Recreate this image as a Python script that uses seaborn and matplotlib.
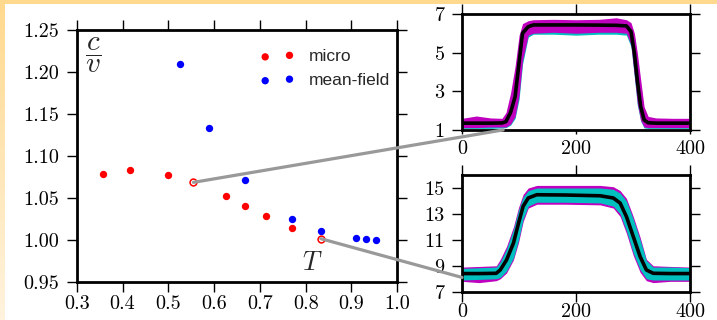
import numpy as np
import pandas as pd
import matplotlib
matplotlib.use("Agg")
import matplotlib.pyplot as plt
import seaborn as sns
from matplotlib.patches import ConnectionPatch

# ---------------- data ----------------
micro_T = [0.357, 0.416, 0.500, 0.555, 0.625, 0.667, 0.714, 0.770, 0.833]
micro_cv = [1.0786, 1.0834, 1.0778, 1.0687, 1.0529, 1.0410, 1.0284, 1.0149, 1.0018]
mf_T = [0.526, 0.588, 0.667, 0.770, 0.833, 0.909, 0.931, 0.953]
mf_cv = [1.2096, 1.1328, 1.0711, 1.0256, 1.0113, 1.0026, 1.0011, 1.0000]
highlight_idx = [3, 8]          # micro points linked to the insets

main_xticks = [0.3, 0.4, 0.5, 0.6, 0.7, 0.8, 0.9, 1.0]
main_xlabels = ["0.3", "0.4", "0.5", "0.6", "0.7", "0.8", "0.9", "1.0"]
main_yticks = [0.95, 1.00, 1.05, 1.10, 1.15, 1.20, 1.25]
main_ylabels = ["0.95", "1.00", "1.05", "1.10", "1.15", "1.20", "1.25"]

# top inset (profile at T = 0.555)
top_x = [0, 25, 50, 70, 77, 85, 93, 100, 106, 116, 125, 160, 200, 240, 270, 288, 296, 302, 307, 313, 319, 326, 340, 370, 400]
top_mean = [1.35, 1.35, 1.35, 1.36, 1.43, 1.9, 2.72, 4.5, 6.0, 6.34, 6.43, 6.43, 6.43, 6.42, 6.41, 6.38, 6.09, 4.97, 3.59, 2.21, 1.52, 1.37, 1.35, 1.35, 1.35]
top_mag_hi = [1.6, 1.72, 1.62, 1.6, 1.9, 2.9, 4.3, 5.9, 6.5, 6.65, 6.7, 6.72, 6.7, 6.72, 6.8, 6.7, 6.55, 6.0, 5.0, 3.6, 2.2, 1.7, 1.62, 1.6, 1.6]
top_mag_lo = [1.12, 1.12, 1.15, 1.15, 1.15, 1.3, 1.7, 2.8, 4.6, 5.9, 6.0, 6.05, 6.0, 6.05, 6.05, 6.0, 5.4, 3.8, 2.4, 1.5, 1.15, 1.12, 1.12, 1.12, 1.12]
top_cyan_hi = [1.5, 1.55, 1.55, 1.55, 1.8, 2.7, 4.0, 5.6, 6.3, 6.5, 6.55, 6.6, 6.6, 6.6, 6.6, 6.55, 6.4, 5.8, 4.7, 3.3, 2.0, 1.6, 1.55, 1.5, 1.5]
top_cyan_lo = [1.08, 1.08, 1.08, 1.1, 1.12, 1.25, 1.6, 2.6, 4.4, 5.8, 5.95, 5.95, 5.9, 5.95, 5.95, 5.9, 5.3, 3.7, 2.3, 1.45, 1.1, 1.08, 1.08, 1.08, 1.08]
top_yticks = [1, 3, 5, 7]

# bottom inset (profile at T = 0.833)
bot_x = [0, 30, 60, 67, 78, 90, 99, 107, 116, 131, 180, 242, 265, 277, 288, 300, 312, 323, 335, 365, 400]
bot_mean = [8.4, 8.4, 8.42, 8.68, 9.45, 10.74, 12.29, 13.58, 14.23, 14.48, 14.46, 14.4, 14.23, 13.84, 12.8, 11.26, 9.71, 8.68, 8.42, 8.4, 8.4]
bot_cyan_hi = [8.8, 8.85, 8.9, 9.3, 10.3, 11.8, 13.3, 14.3, 14.8, 15.0, 15.0, 15.0, 14.9, 14.6, 14.0, 12.6, 11.0, 9.4, 8.9, 8.9, 8.85]
bot_cyan_lo = [7.9, 7.95, 8.0, 8.1, 8.6, 9.6, 11.0, 12.6, 13.6, 13.9, 13.9, 13.85, 13.6, 13.0, 11.7, 10.0, 8.7, 8.0, 7.9, 7.9, 7.9]
bot_mag_hi = [8.9, 8.95, 9.0, 9.5, 10.5, 12.0, 13.5, 14.5, 15.0, 15.2, 15.2, 15.2, 15.1, 14.8, 14.2, 12.8, 11.2, 9.5, 9.0, 8.95, 8.9]
bot_mag_lo = [7.8, 7.7, 7.85, 8.0, 8.45, 9.45, 10.8, 12.4, 13.45, 13.75, 13.75, 13.7, 13.45, 12.8, 11.5, 9.8, 8.5, 7.85, 7.7, 7.8, 7.8]
bot_yticks = [7, 9, 11, 13, 15]

inset_xticks = [0, 200, 400]

# link targets in inset data coordinates
link_top_target = (72, 1.0)
link_bot_target = (0, 8.1)

# ---------------- style ----------------
sns.set_style("ticks")
plt.rcParams["mathtext.fontset"] = "cm"
plt.rcParams["axes.formatter.use_mathtext"] = True

fig = plt.figure(figsize=(7.17, 3.2), dpi=100)
fig.patch.set_facecolor("white")

# decorative background strips
bg = fig.add_axes([0, 0, 1, 1], zorder=-10)
bg.set_axis_off()
bg.set_xlim(0, 717)
bg.set_ylim(320, 0)
top_c = np.array([255, 217, 142]) / 255
pale_c = np.array([255, 243, 222]) / 255
grad = np.linspace(0, 1, 100)[:, None, None] * (pale_c - top_c) + top_c
bg.imshow(grad, extent=(0, 5, 320, 0), aspect="auto")
bg.add_patch(plt.Rectangle((0, 0), 717, 4, color=top_c, lw=0))

SPINE_W = 2.0
TICK_FS = 14.5


def style_axes(ax, xpad, ypad):
    for s in ax.spines.values():
        s.set_linewidth(SPINE_W)
        s.set_color("black")
        s.set_visible(True)
    ax.tick_params(direction="out", length=7.5, width=1.0, top=True, right=True,
                   labeltop=False, labelright=False, labelsize=TICK_FS, colors="black")
    ax.tick_params(axis="x", pad=xpad)
    ax.tick_params(axis="y", pad=ypad)
    for lbl in ax.get_xticklabels() + ax.get_yticklabels():
        lbl.set_fontfamily("cmr10")
    ax.set_xlabel("")
    ax.set_ylabel("")


# ---------------- main axes ----------------
ax = fig.add_axes([0.1070, 0.1178, 0.4471, 0.7894])
micro_df = pd.DataFrame({"T": micro_T, "cv": micro_cv})
mf_df = pd.DataFrame({"T": mf_T, "cv": mf_cv})
sns.scatterplot(data=micro_df, x="T", y="cv", color="red", s=28, linewidth=0,
                label="micro", ax=ax, zorder=3)
sns.scatterplot(data=mf_df, x="T", y="cv", color="blue", s=28, linewidth=0,
                label="mean-field", ax=ax, zorder=3)
hl_df = micro_df.iloc[highlight_idx]
sns.scatterplot(data=hl_df, x="T", y="cv", facecolor="white", edgecolor="red",
                s=24, linewidth=1.1, ax=ax, zorder=4, legend=False)

ax.set_xlim(0.3, 1.0)
ax.set_ylim(0.95, 1.25)
ax.set_xticks(main_xticks, main_xlabels)
ax.set_yticks(main_yticks, main_ylabels)
style_axes(ax, 2.0, 5.0)

ax.legend(loc="upper left", bbox_to_anchor=(0.55, 0.950), frameon=False,
          scatterpoints=2, labelspacing=0.5, handletextpad=0.8, borderaxespad=0,
          prop={"family": "Liberation Sans", "size": 12.5})

ax.text(0.051, 0.900, r"$\dfrac{c}{v}$", transform=ax.transAxes, fontsize=21,
        ha="center", va="center")
ax.text(0.734, 0.076, r"$T$", transform=ax.transAxes, fontsize=19,
        ha="center", va="center")

# ---------------- insets ----------------
ax1 = fig.add_axes([0.6444, 0.5940, 0.3184, 0.3625])
ax1.fill_between(top_x, top_cyan_lo, top_cyan_hi, color="c", lw=0)
ax1.fill_between(top_x, top_mag_lo, top_mag_hi, color="m", lw=0)
sns.lineplot(x=top_x, y=top_mean, color="black", lw=2.6, ax=ax1, zorder=5)
ax1.set_xlim(0, 400)
ax1.set_ylim(1, 7)
ax1.set_xticks(inset_xticks, [str(v) for v in inset_xticks])
ax1.set_yticks(top_yticks, [str(v) for v in top_yticks])
style_axes(ax1, 0.0, 5.0)
ax1.tick_params(axis="x", which="major", bottom=True, length=7.5)
ax1.xaxis.set_tick_params(which="major", length=7.5)
for t in ax1.xaxis.get_major_ticks():
    t.tick1line.set_markersize(3.0)   # short bottom ticks in the top inset

ax2 = fig.add_axes([0.6444, 0.0884, 0.3184, 0.3646])
ax2.fill_between(bot_x, bot_mag_lo, bot_mag_hi, color="m", lw=0)
ax2.fill_between(bot_x, bot_cyan_lo, bot_cyan_hi, color="c", lw=0)
sns.lineplot(x=bot_x, y=bot_mean, color="black", lw=2.6, ax=ax2, zorder=5)
ax2.set_xlim(0, 400)
ax2.set_ylim(7, 16)
ax2.set_xticks(inset_xticks, [str(v) for v in inset_xticks])
ax2.set_yticks(bot_yticks, [str(v) for v in bot_yticks])
style_axes(ax2, 1.0, 5.0)

# ---------------- connector lines ----------------
for idx, target, tax in [(highlight_idx[0], link_top_target, ax1),
                         (highlight_idx[1], link_bot_target, ax2)]:
    con = ConnectionPatch(xyA=(micro_T[idx], micro_cv[idx]), coordsA=ax.transData,
                          xyB=target, coordsB=tax.transData,
                          color="#999999", lw=2.3, zorder=10)
    fig.add_artist(con)

fig.savefig("out.png", dpi=100)
